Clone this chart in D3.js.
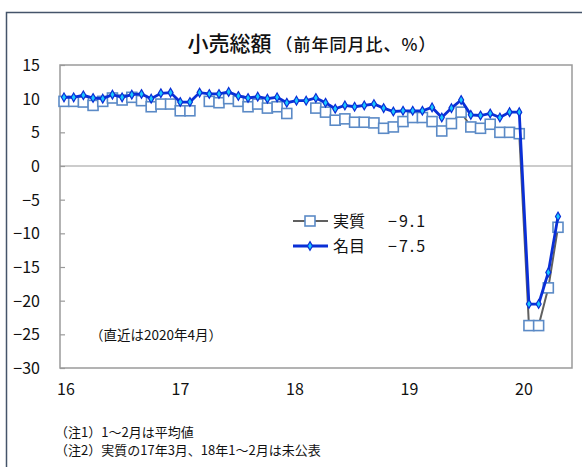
<!DOCTYPE html>
<html>
<head>
<meta charset="utf-8">
<script src="https://cdn.jsdelivr.net/npm/d3@7"></script>
<style>
  html, body { margin: 0; padding: 0; background: #fff; }
  svg { display: block; font-family: "Noto Sans CJK JP", "Noto Sans", sans-serif; }
</style>
</head>
<body>
<svg id="chart" width="582" height="467"></svg>
<script>
// Monthly index: Jan 2016 .. Apr 2020 (Jan/Feb carry the combined Jan–Feb figure)
const years = [2016, 2017, 2018, 2019, 2020];
const yearLabels = ["16", "17", "18", "19", "20"];

// 名目 (nominal), y/y %
const nominal = [
  10.2, 10.2, 10.5, 10.1, 10.0, 10.6, 10.2, 10.6, 10.7, 10.0, 10.8, 10.9,
  9.5, 9.5, 10.9, 10.7, 10.7, 11.0, 10.4, 10.1, 10.3, 10.0, 10.2, 9.4,
  9.7, 9.7, 10.1, 9.4, 8.5, 9.0, 8.8, 9.0, 9.2, 8.6, 8.1, 8.2,
  8.2, 8.2, 8.7, 7.2, 8.6, 9.8, 7.6, 7.5, 7.8, 7.2, 8.0, 8.0,
  -20.5, -20.5, -15.8, -7.5
];

// 実質 (real), y/y % — null where not published
const real = [
  9.6, 9.6, 9.5, 9.0, 9.6, 10.1, 9.8, 10.2, 9.7, 8.8, 9.2, 9.2,
  8.2, 8.2, null, 9.6, 9.4, 10.0, 9.6, 8.8, 9.2, 8.6, 8.8, 7.8,
  null, null, 8.6, 8.0, 6.8, 7.0, 6.5, 6.5, 6.4, 5.6, 5.8, 6.6,
  7.2, 7.2, 6.6, 5.2, 6.3, 8.0, 5.8, 5.6, 6.2, 5.0, 5.0, 4.8,
  -23.7, -23.7, -18.1, -9.1
];

const yTicks = [15, 10, 5, 0, -5, -10, -15, -20, -25, -30];
const seriesNames = ["実質", "名目"];
const titleMain = "小売総額";
const titleSub = "（前年同月比、%）";
const noteLatest = "（直近は2020年4月）";
const footnotes = ["（注1）1〜2月は平均値", "（注2）実質の17年3月、18年1〜2月は未公表"];

const svg = d3.select("#chart");

// outer frame
svg.append("rect").attr("x", 6.5).attr("y", 12.5).attr("width", 620).attr("height", 500)
  .attr("fill", "#fff").attr("stroke", "#44546a").attr("stroke-width", 1.5);

const plot = { left: 60, right: 572, top: 65, bottom: 368 };

const x = d3.scaleLinear().domain([0, nominal.length - 1]).range([64, 558]);
const y = d3.scaleLinear().domain([-30, 15]).range([plot.bottom, plot.top]);
const yearX = d3.scaleLinear().domain([2016, 2020]).range([66, 524]);

const fmt = v => (v < 0 ? "\u2212" + Math.abs(v) : String(v));

// plot frame
svg.append("rect")
  .attr("x", plot.left).attr("y", plot.top)
  .attr("width", plot.right - plot.left).attr("height", plot.bottom - plot.top)
  .attr("fill", "none").attr("stroke", "#9a9a9a").attr("stroke-width", 1.5);

// zero line
svg.append("line")
  .attr("x1", plot.left).attr("x2", plot.right)
  .attr("y1", y(0)).attr("y2", y(0))
  .attr("stroke", "#9a9a9a").attr("stroke-width", 1.2);

// y axis: inward ticks, labels on the left
const yAxis = d3.axisRight(y).tickValues(yTicks).tickSize(5).tickFormat("");
const ya = svg.append("g").attr("transform", `translate(${plot.left},0)`).call(yAxis);
ya.select(".domain").remove();
ya.selectAll("line").attr("stroke", "#9a9a9a").attr("stroke-width", 1.2);

svg.append("g").selectAll("text").data(yTicks).join("text")
  .attr("x", 40).attr("y", d => y(d) + 6)
  .attr("text-anchor", "end").attr("font-size", 16).attr("fill", "#111")
  .text(fmt);

// x labels (years)
svg.append("g").selectAll("text").data(years).join("text")
  .attr("x", d => yearX(d)).attr("y", 395)
  .attr("text-anchor", "middle").attr("font-size", 16).attr("fill", "#111")
  .text((d, i) => yearLabels[i]);

// title
const t = svg.append("text").attr("x", 312).attr("y", 51).attr("text-anchor", "middle").attr("fill", "#111");
t.append("tspan").attr("font-size", 21).attr("font-weight", 500).text(titleMain);
t.append("tspan").attr("font-size", 17).attr("font-weight", 500).attr("dx", 4).attr("letter-spacing", 1).text(titleSub);

// real series
const realColor = "#5b8ac6", realLine = "#606060";
const lineGen = d3.line().defined(d => d != null).x((d, i) => x(i)).y(d => y(d));
svg.append("path").datum(real).attr("d", lineGen)
  .attr("fill", "none").attr("stroke", realLine).attr("stroke-width", 2);
svg.append("g").selectAll("rect").data(real.map((v, i) => ({ v, i })).filter(d => d.v != null)).join("rect")
  .attr("x", d => x(d.i) - 5).attr("y", d => y(d.v) - 5)
  .attr("width", 10).attr("height", 10)
  .attr("fill", "#fff").attr("stroke", realColor).attr("stroke-width", 1.6);

// nominal series
const nomColor = "#0a2fd6", nomMarker = "#19c8ff";
svg.append("path").datum(nominal).attr("d", lineGen)
  .attr("fill", "none").attr("stroke", nomColor).attr("stroke-width", 2.8);
const diamond = d3.symbol().type(d3.symbolDiamond).size(22);
svg.append("g").selectAll("path").data(nominal).join("path")
  .attr("transform", (d, i) => `translate(${x(i)},${y(d)})`)
  .attr("d", diamond)
  .attr("fill", nomMarker).attr("stroke", nomColor).attr("stroke-width", 1.2);

// legend
const legend = [
  { name: seriesNames[0], last: real[real.length - 1], yy: 221 },
  { name: seriesNames[1], last: nominal[nominal.length - 1], yy: 246 }
];
legend.forEach((l, k) => {
  const g = svg.append("g");
  g.append("line").attr("x1", 293).attr("x2", 328).attr("y1", l.yy).attr("y2", l.yy)
    .attr("stroke", k === 0 ? realLine : nomColor).attr("stroke-width", k === 0 ? 2 : 2.8);
  if (k === 0) {
    g.append("rect").attr("x", 310 - 5).attr("y", l.yy - 5).attr("width", 10).attr("height", 10)
      .attr("fill", "#fff").attr("stroke", realColor).attr("stroke-width", 1.6);
  } else {
    g.append("path").attr("transform", `translate(310,${l.yy})`).attr("d", diamond)
      .attr("fill", nomMarker).attr("stroke", nomColor).attr("stroke-width", 1.2);
  }
  g.append("text").attr("x", 333).attr("y", l.yy + 6).attr("font-size", 16).attr("fill", "#111").text(l.name);
  g.append("text").attr("x", 388).attr("y", l.yy + 6).attr("font-size", 16).attr("fill", "#111")
    .attr("letter-spacing", 2).text(fmt(l.last));
});

// latest-data note
svg.append("text").attr("x", 90).attr("y", 340).attr("font-size", 13.5).attr("fill", "#111").text(noteLatest);

// footnotes
svg.append("g").selectAll("text").data(footnotes).join("text")
  .attr("x", 55).attr("y", (d, i) => 437 + i * 18)
  .attr("font-size", 13).attr("fill", "#111").text(d => d);
</script>
</body>
</html>
